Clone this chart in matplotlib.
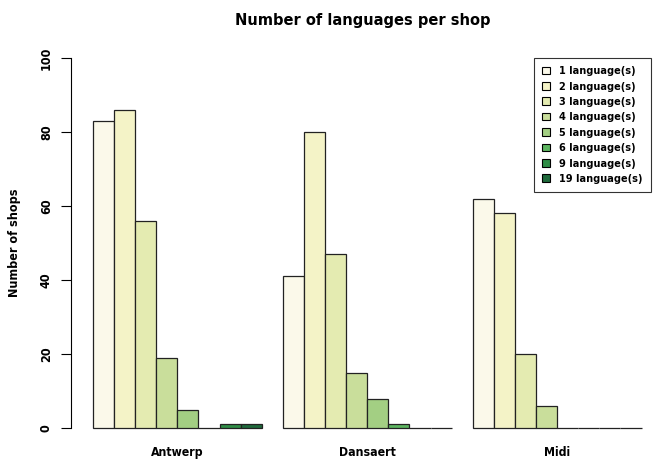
import matplotlib
matplotlib.use("Agg")
from matplotlib import pyplot as plt
from matplotlib.patches import Patch
import numpy as np

shops = ["Antwerp", "Dansaert", "Midi"]
series = ["1 language(s)", "2 language(s)", "3 language(s)", "4 language(s)",
          "5 language(s)", "6 language(s)", "9 language(s)", "19 language(s)"]
antwerp = [83, 86, 56, 19, 5, 0, 1, 1]
dansaert = [41, 80, 47, 15, 8, 1, 0, 0]
midi = [62, 58, 20, 6, 0, 0, 0, 0]
counts = np.array([antwerp, dansaert, midi])

colors = ["#fbf9ea", "#f4f3c7", "#e4ebb1", "#c9de9b", "#a3cf83",
          "#5db560", "#2f8d46", "#1f6a3c"]

plt.rcParams['font.family'] = ['DejaVu Sans']
plt.rcParams['font.stretch'] = 'condensed'
plt.rcParams['font.weight'] = 'bold'

fig = plt.figure(figsize=(6.54, 4.62), dpi=100)
W, H = 654, 462
ax = fig.add_axes([71 / W, 1 - 443 / H, 580 / W, (443 - 58) / H])

n = len(series)
for g, shop in enumerate(shops):
    lefts = 1 + g * (n + 1) + np.arange(n)
    ax.bar(lefts, counts[g], width=1, align='edge', color=colors,
           edgecolor='#222222', linewidth=0.9)

ax.set_xlim(-0.04, 27.45)
ax.set_ylim(-4, 100)

for s in ['top', 'right', 'bottom']:
    ax.spines[s].set_visible(False)
ax.spines['left'].set_bounds(0, 100)
ax.spines['left'].set_linewidth(0.8)
ax.set_yticks([0, 20, 40, 60, 80, 100])
ax.tick_params(axis='y', length=7, width=0.8, pad=6, labelsize=9,
               labelrotation=90)
for lab in ax.get_yticklabels():
    lab.set_va('center')
ax.set_xticks([1 + g * (n + 1) + n / 2 for g in range(len(shops))])
ax.set_xticklabels(shops, fontsize=8.8, fontweight='bold')
ax.tick_params(axis='x', length=0, pad=2)

ax.set_ylabel("Number of shops", fontsize=9, fontweight='bold')
ax.yaxis.set_label_coords(-50 / 580, (443 - 243) / 385)
fig.suptitle("Number of languages per shop", x=363 / W, y=1 - 20 / H,
             fontsize=10.5, fontweight='bold', fontstretch='normal',
             va='center')

handles = [Patch(facecolor=c, edgecolor='black', linewidth=0.8) for c in colors]
leg = ax.legend(handles, series, loc='upper right', bbox_to_anchor=(1.0, 1.0),
                fontsize=7.8, frameon=True, fancybox=False, edgecolor='black',
                handlelength=0.7, handleheight=0.7, handletextpad=0.9,
                labelspacing=0.5, borderpad=0.75, borderaxespad=0)
leg.get_frame().set_linewidth(0.8)

fig.savefig("out.png", dpi=100)
